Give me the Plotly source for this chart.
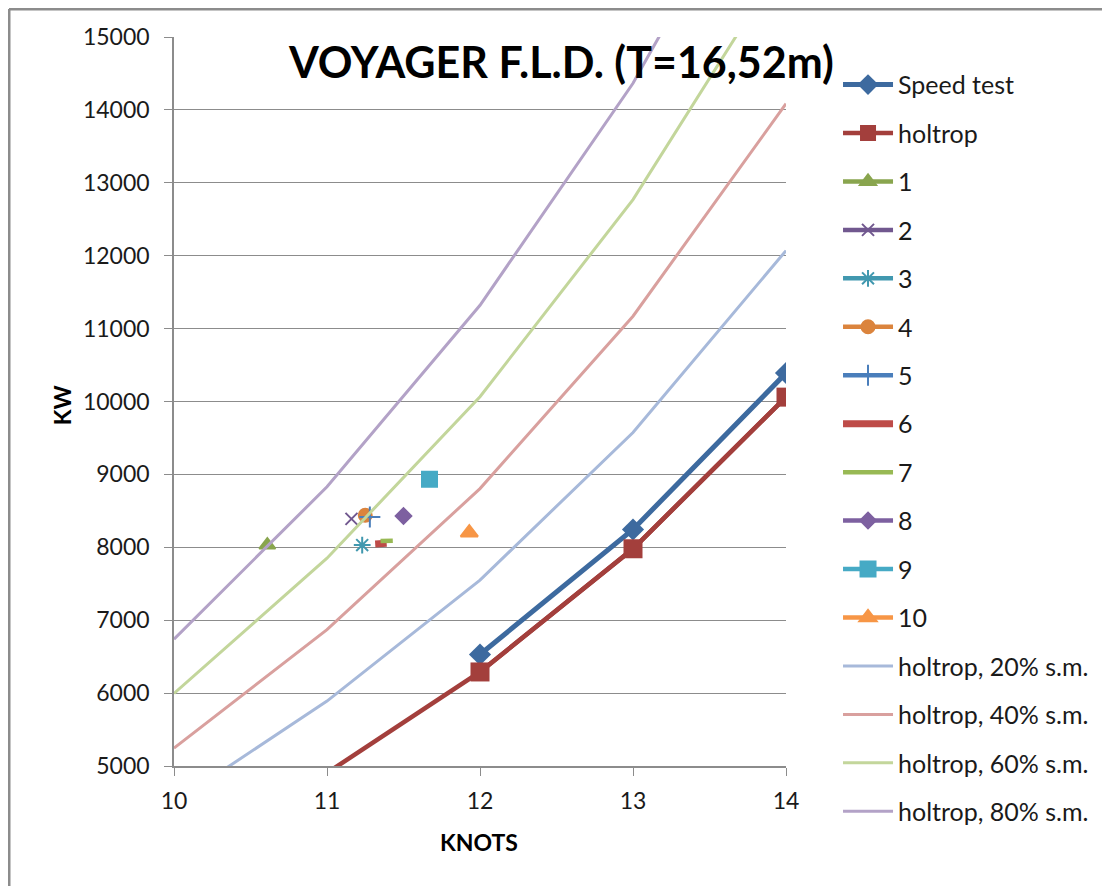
import plotly.graph_objects as go

# speed (knots) vs power (kW)
SPEED_TEST_X = [12, 13, 14]
SPEED_TEST_Y = [6530, 8245, 10390]

HOLTROP_X = [10, 11, 12, 13, 14]
HOLTROP_Y = [3745, 4905, 6290, 7980, 10060]

# sea-margin curves
MARGIN_X = [10, 11, 12, 13, 14]
MARGIN_NAMES = ["holtrop, 20% s.m.", "holtrop, 40% s.m.", "holtrop, 60% s.m.", "holtrop, 80% s.m."]
MARGIN_Y = [
    [4495, 5890, 7550, 9575, 12070],
    [5245, 6870, 8805, 11170, 14085],
    [5995, 7850, 10065, 12770, 16095],
    [6740, 8830, 11320, 14365, 18110],
]
MARGIN_COLORS = ["#a7b9da", "#d9a09e", "#c3d69b", "#b3a2c7"]

# measured points 1..10
POINT_NAMES = ["1", "2", "3", "4", "5", "6", "7", "8", "9", "10"]
POINT_X = [[10.61], [11.16], [11.23], [11.25], [11.28], [11.315, 11.39], [11.35, 11.43], [11.50], [11.67], [11.93]]
POINT_Y = [[8030], [8390], [8030], [8440], [8415], [8045, 8055], [8085, 8090], [8430], [8935], [8200]]
POINT_COLORS = ["#89a54e", "#71588f", "#4198af", "#db843d", "#4a7ebb",
                "#be4b48", "#98b954", "#7d60a0", "#46aac5", "#f79646"]
POINT_SYMBOLS = ["triangle-up", "x-thin-open", "asterisk-open", "circle", "cross-thin-open",
                 None, None, "diamond", "square", "triangle-up"]
POINT_SIZES = [14, 12, 14, 13, 15, None, None, 12, 15, 15]
POINT_WIDTHS = [4.5, 4.5, 4.5, 4.5, 4.5, 7, 4.5, 4.5, 4.5, 4.5]

FONT = "Lato, 'Open Sans', sans-serif"
GRID = "#8c8c8c"

fig = go.Figure()

fig.add_trace(go.Scatter(
    x=SPEED_TEST_X, y=SPEED_TEST_Y, name="Speed test", mode="lines+markers",
    line=dict(color="#3d6a9f", width=5),
    marker=dict(symbol="diamond", size=17, color="#3d6a9f"),
    legendgroup="g0",
))

# holtrop: full line, markers only where they fall inside the axis range
fig.add_trace(go.Scatter(
    x=HOLTROP_X, y=HOLTROP_Y, mode="lines", showlegend=False,
    line=dict(color="#a33f3c", width=4.5), hoverinfo="skip",
))
hx = [x for x, y in zip(HOLTROP_X, HOLTROP_Y) if y >= 5000]
hy = [y for y in HOLTROP_Y if y >= 5000]
fig.add_trace(go.Scatter(
    x=hx, y=hy, name="holtrop", mode="lines+markers",
    line=dict(color="#a33f3c", width=4.5),
    marker=dict(symbol="square", size=19, color="#a33f3c"),
    legendgroup="g1",
))

for i, name in enumerate(POINT_NAMES):
    sym = POINT_SYMBOLS[i]
    c = POINT_COLORS[i]
    if sym is None:
        fig.add_trace(go.Scatter(
            x=POINT_X[i], y=POINT_Y[i], name=name, mode="lines",
            line=dict(color=c, width=POINT_WIDTHS[i]), legendgroup=f"p{i}",
        ))
    else:
        fig.add_trace(go.Scatter(
            x=POINT_X[i], y=POINT_Y[i], name=name, mode="lines+markers",
            line=dict(color=c, width=POINT_WIDTHS[i]),
            marker=dict(symbol=sym, size=POINT_SIZES[i], color=c,
                        line=dict(color=c, width=2)),
            legendgroup=f"p{i}",
        ))

for i, name in enumerate(MARGIN_NAMES):
    fig.add_trace(go.Scatter(
        x=MARGIN_X, y=MARGIN_Y[i], name=name, mode="lines",
        line=dict(color=MARGIN_COLORS[i], width=3), legendgroup=f"m{i}",
    ))

# the page body adds 8px around the figure, so the figure is 8px smaller each way
fig.update_layout(
    width=1102, height=878,
    margin=dict(l=166, r=324, t=29, b=120),
    paper_bgcolor="white", plot_bgcolor="white",
    font=dict(family=FONT, size=23, color="#1a1a1a"),
    showlegend=True,
    legend=dict(x=1.085, y=0.966, xanchor="left", yanchor="top",
                font=dict(size=25), tracegroupgap=12.95, itemwidth=50,
                maxheight=900, bgcolor="rgba(0,0,0,0)"),
    xaxis=dict(range=[10, 14], dtick=1, showgrid=False, zeroline=False,
               showline=True, linecolor=GRID, linewidth=1.5,
               ticks="outside", ticklen=8, tickcolor=GRID,
               ticklabelstandoff=6),
    yaxis=dict(range=[5000, 15000], dtick=1000, tickformat="d",
               showgrid=True, gridcolor=GRID,
               gridwidth=1, zeroline=False, showline=True, linecolor=GRID,
               linewidth=1.5, ticks="outside", ticklen=8, tickcolor=GRID,
               ticklabelstandoff=10),
    annotations=[
        dict(text="<b>VOYAGER F.L.D. (T=16,52m)</b>", x=0.632, y=0.966,
             xref="paper", yref="paper", xanchor="center", yanchor="middle",
             showarrow=False, font=dict(size=43, color="black")),
        dict(text="<b>KNOTS</b>", x=0.498, y=-0.104, xref="paper", yref="paper",
             xanchor="center", yanchor="middle",
             showarrow=False, font=dict(size=23, color="black")),
        dict(text="<b>KW</b>", x=-0.183, y=0.495, xref="paper", yref="paper",
             xanchor="center", yanchor="middle",
             showarrow=False, textangle=-90, font=dict(size=23, color="black")),
    ],
    shapes=[
        dict(type="line", xref="paper", yref="paper", x0=-0.2696, x1=1.56,
             y0=1.0384, y1=1.0384, line=dict(color="#8c8c8c", width=3)),
        dict(type="line", xref="paper", yref="paper", x0=-0.2696, x1=-0.2696,
             y0=1.0384, y1=-0.17, line=dict(color="#8c8c8c", width=3)),
    ],
)

fig.write_html("out.html")
